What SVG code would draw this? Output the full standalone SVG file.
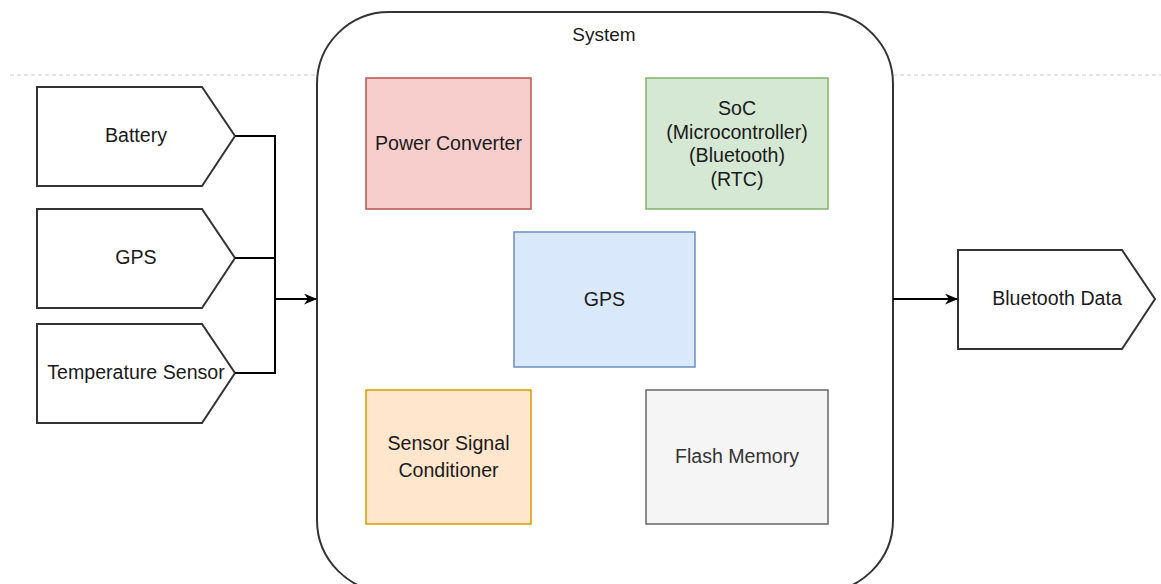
<svg xmlns="http://www.w3.org/2000/svg" width="1161" height="584" viewBox="0 0 1161 584">
<defs>
<style>
text{font-family:"Liberation Sans",Arial,Helvetica,sans-serif;font-size:19.6px;fill:#1a1a1a;text-anchor:middle}
.io{fill:#ffffff;stroke:#333333;stroke-width:2}
.edge{fill:none;stroke:#000000;stroke-width:2}
.dash{fill:none;stroke:#cccccc;stroke-width:1;stroke-dasharray:4 3}
</style>
<marker id="arrow" viewBox="0 0 12 10" refX="11" refY="5" markerWidth="13" markerHeight="11" markerUnits="userSpaceOnUse" orient="auto">
<path d="M0,0 L12,5 L0,10 L3.5,5 Z" fill="#000000"/>
</marker>
</defs>
<rect width="1161" height="584" fill="#ffffff"/>
<line class="dash" x1="10" y1="75" x2="317" y2="75"/>
<line class="dash" x1="893" y1="75" x2="1161" y2="75"/>
<g id="system">
<rect x="317" y="12" width="576" height="580" rx="72" ry="72" fill="#ffffff" stroke="#333333" stroke-width="2"/>
<text x="604" y="41" style="font-size:19px">System</text>
</g>
<g id="battery">
<path class="io" d="M37,87 H202 L235,136 L202,186 H37 Z"/>
<text x="136" y="142">Battery</text>
</g>
<g id="gps-in">
<path class="io" d="M37,209 H202 L235,258 L202,308 H37 Z"/>
<text x="136" y="264">GPS</text>
</g>
<g id="temp">
<path class="io" d="M37,324 H202 L235,373 L202,423 H37 Z"/>
<text x="136" y="379">Temperature Sensor</text>
</g>
<g id="bt-data">
<path class="io" d="M958,250 H1122 L1155,299 L1122,349 H958 Z"/>
<text x="1057" y="305">Bluetooth Data</text>
</g>
<g id="power">
<rect x="366" y="78" width="165" height="131" fill="#f8cecc" stroke="#b85450" stroke-width="1.5"/>
<text x="448.5" y="150">Power Converter</text>
</g>
<g id="soc">
<rect x="646" y="78" width="182" height="131" fill="#d5e8d4" stroke="#82b366" stroke-width="1.5"/>
<text x="737" y="115">SoC</text>
<text x="737" y="138.5">(Microcontroller)</text>
<text x="737" y="162">(Bluetooth)</text>
<text x="737" y="185.5">(RTC)</text>
</g>
<g id="gps">
<rect x="514" y="232" width="181" height="135" fill="#dae8fc" stroke="#6c8ebf" stroke-width="1.5"/>
<text x="604.5" y="306">GPS</text>
</g>
<g id="conditioner">
<rect x="366" y="390" width="165" height="134" fill="#ffe6cc" stroke="#d79b00" stroke-width="1.5"/>
<text x="448.5" y="450">Sensor Signal</text>
<text x="448.5" y="477">Conditioner</text>
</g>
<g id="flash">
<rect x="646" y="390" width="182" height="134" fill="#f5f5f5" stroke="#666666" stroke-width="1.5"/>
<text x="737" y="463" style="fill:#333333">Flash Memory</text>
</g>
<g id="connectors">
<path class="edge" d="M235,136 H275 V299 H316" marker-end="url(#arrow)"/>
<path class="edge" d="M235,258 H275"/>
<path class="edge" d="M235,373 H275 V299"/>
<path class="edge" d="M893,299 H957" marker-end="url(#arrow)"/>
</g>
</svg>
